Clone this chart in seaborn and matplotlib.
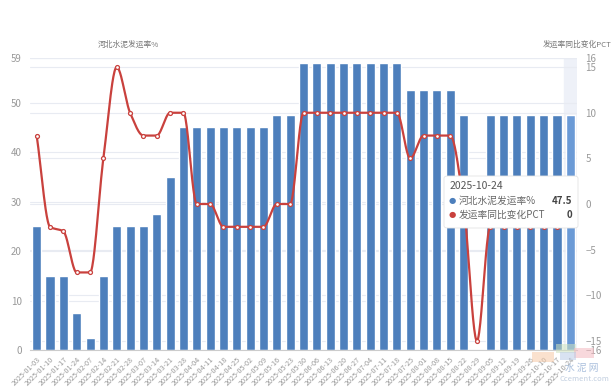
import numpy as np
import matplotlib
matplotlib.use("Agg")
import matplotlib.pyplot as plt
from matplotlib.patches import FancyBboxPatch, Rectangle
import seaborn as sns

# weekly data, 2025
dates = [
    "2025-01-03", "2025-01-10", "2025-01-17", "2025-01-24", "2025-02-07", "2025-02-14",
    "2025-02-21", "2025-02-28", "2025-03-07", "2025-03-14", "2025-03-21", "2025-03-28",
    "2025-04-04", "2025-04-11", "2025-04-18", "2025-04-25", "2025-05-02", "2025-05-09",
    "2025-05-16", "2025-05-23", "2025-05-30", "2025-06-06", "2025-06-13", "2025-06-20",
    "2025-06-27", "2025-07-04", "2025-07-11", "2025-07-18", "2025-07-25", "2025-08-01",
    "2025-08-08", "2025-08-15", "2025-08-22", "2025-08-29", "2025-09-05", "2025-09-12",
    "2025-09-19", "2025-09-26", "2025-10-10", "2025-10-17", "2025-10-24",
]
rate = [25, 15, 15, 7.5, 2.5, 15, 25, 25, 25, 27.5, 35, 45, 45, 45, 45, 45, 45, 45,
        47.5, 47.5, 58, 58, 58, 58, 58, 58, 58, 58, 52.5, 52.5, 52.5, 52.5, 47.5, 0,
        47.5, 47.5, 47.5, 47.5, 47.5, 47.5, 47.5]
pct = [7.5, -2.5, -3, -7.5, -7.5, 5, 15, 10, 7.5, 7.5, 10, 10, 0, 0, -2.5, -2.5, -2.5,
       -2.5, 0, 0, 10, 10, 10, 10, 10, 10, 10, 10, 5, 7.5, 7.5, 7.5, 0, -15, -2.5, -2.5,
       -2.5, -2.5, -2.5, -2.5, 0]

left_ticks = [0, 10, 20, 30, 40, 50, 59]
right_ticks = [-16, -15, -10, -5, 0, 5, 10, 15, 16]

BLUE = "#4d7fbc"
BLUE_HI = "#6b9ad6"
RED = "#c9413d"
GRID = "#e8ebf2"
LABEL = "#999999"


# monotone cubic (Fritsch-Carlson) for drawing the smoothed line
def smooth_curve(x, y, n=24):
    x = np.asarray(x, float)
    y = np.asarray(y, float)
    h = np.diff(x)
    d = np.diff(y) / h
    m = np.zeros_like(y)
    m[0], m[-1] = d[0], d[-1]
    for k in range(1, len(y) - 1):
        if d[k - 1] * d[k] <= 0:
            m[k] = 0
        else:
            w1 = 2 * h[k] + h[k - 1]
            w2 = h[k] + 2 * h[k - 1]
            m[k] = (w1 + w2) / (w1 / d[k - 1] + w2 / d[k])
    xs, ys = [], []
    for k in range(len(x) - 1):
        t = np.linspace(0, 1, n, endpoint=False)
        h00 = 2 * t**3 - 3 * t**2 + 1
        h10 = t**3 - 2 * t**2 + t
        h01 = -2 * t**3 + 3 * t**2
        h11 = t**3 - t**2
        xs.append(x[k] + t * h[k])
        ys.append(h00 * y[k] + h10 * h[k] * m[k] + h01 * y[k + 1] + h11 * h[k] * m[k + 1])
    xs.append([x[-1]])
    ys.append([y[-1]])
    return np.concatenate(xs), np.concatenate(ys)


sns.set_style("white")
plt.rcParams["font.family"] = ["Noto Sans CJK SC", "DejaVu Sans"]

fig = plt.figure(figsize=(6.12, 3.91), dpi=100)
ax = fig.add_axes([30 / 612, 41 / 391, 547 / 612, 292 / 391])

pos = np.arange(len(dates))
ax.axvspan(len(dates) - 1.5, len(dates) - 0.5, color="#eef1f8", zorder=0)

# grid lines of both axes, drawn behind the bars
for v in left_ticks:
    ax.axhline(v, color=GRID, lw=0.8, zorder=0.5)
for v in right_ticks:
    ax.axhline((v + 16) / 32 * 59, color=GRID, lw=0.8, zorder=0.5)

sns.barplot(x=dates, y=rate, color=BLUE, saturation=1, width=0.68, ax=ax, zorder=2)
ax.containers[0][-1].set_facecolor(BLUE_HI)

ax.set_xlim(-0.5, len(dates) - 0.5)
ax.set_ylim(0, 59)
ax.set_yticks(left_ticks)
ax.set_xlabel("")
ax.set_ylabel("")
ax.tick_params(axis="y", length=0, labelsize=7, labelcolor=LABEL, pad=6)
ax.tick_params(axis="x", length=3, color="#cccccc", labelsize=5.2, labelcolor=LABEL, pad=1)
plt.setp(ax.get_xticklabels(), rotation=45, ha="right", rotation_mode="anchor")
for s in ["top", "left", "right"]:
    ax.spines[s].set_visible(False)
ax.spines["bottom"].set_color("#cccccc")

ax2 = ax.twinx()
xs, ys = smooth_curve(pos, pct)
ax2.plot(xs, ys, color=RED, lw=1.6, zorder=3)
sns.scatterplot(x=pos, y=pct, ax=ax2, s=8, color="white", edgecolor=RED,
                linewidth=0.9, zorder=4)
ax2.set_ylim(-16, 16)
ax2.set_yticks(right_ticks)
ax2.tick_params(axis="y", length=0, labelsize=7, labelcolor=LABEL, pad=6)
for s in ax2.spines.values():
    s.set_visible(False)

fig.text(128 / 612, 1 - 45 / 391, "河北水泥发运率%", ha="center", va="center",
         fontsize=5.6, color="#777777")
fig.text(577 / 612, 1 - 45 / 391, "发运率同比变化PCT", ha="center", va="center",
         fontsize=5.6, color="#777777")

# watermark
for (x0, y0, w, hh, c) in [(532, 352, 22, 10, "#f6c9a6"), (556, 344, 20, 9, "#cfe3bf"),
                           (574, 348, 20, 10, "#f3b9c0"), (560, 352, 16, 8, "#b9cbe6")]:
    fig.patches.append(Rectangle((x0 / 612, 1 - (y0 + hh) / 391), w / 612, hh / 391,
                                 transform=fig.transFigure, color=c, alpha=0.55,
                                 lw=0, zorder=5))
fig.text(582 / 612, 1 - 368 / 391, "水 泥 网", ha="center", va="center", fontsize=7,
         color="#a9bfdc", zorder=6)
fig.text(584 / 612, 1 - 379 / 391, "Ccement.com", ha="center", va="center",
         fontsize=5.5, color="#c2cfe0", zorder=6)

# hover tooltip
fig.patches.append(FancyBboxPatch((444 / 612, 1 - 228 / 391), 134 / 612, 52 / 391,
                                  boxstyle="round,pad=0,rounding_size=0.006",
                                  transform=fig.transFigure, facecolor="white",
                                  edgecolor="#e4e4e4", lw=0.6, zorder=8))
fig.text(450 / 612, 1 - 186 / 391, "2025-10-24", ha="left", va="center",
         fontsize=7.5, color="#555555", zorder=9)
for yy, c, name, val in [(201, BLUE, "河北水泥发运率%", "47.5"),
                         (215, RED, "发运率同比变化PCT", "0")]:
    fig.text(452 / 612, 1 - yy / 391, "●", ha="center", va="center", fontsize=6,
             color=c, family="DejaVu Sans", zorder=9)
    fig.text(459 / 612, 1 - yy / 391, name, ha="left", va="center", fontsize=7,
             color="#666666", zorder=9)
    fig.text(572 / 612, 1 - yy / 391, val, ha="right", va="center", fontsize=7,
             color="#444444", fontweight="bold", zorder=9)

fig.savefig("out.png", dpi=100)
